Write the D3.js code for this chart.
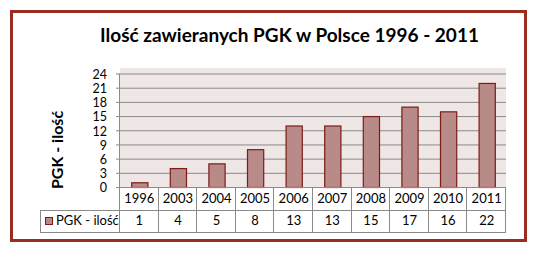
<!DOCTYPE html>
<html><head><meta charset="utf-8">
<script src="https://cdn.jsdelivr.net/npm/d3@7"></script>
<style>body{margin:0;background:#fff}svg{display:block}</style>
</head><body>
<script>
const categories = ["1996","2003","2004","2005","2006","2007","2008","2009","2010","2011"];
const values = [1,4,5,8,13,13,15,17,16,22];
const yTicks = [0,3,6,9,12,15,18,21,24];
const seriesName = "PGK - ilość";
const title = "Ilość zawieranych PGK w Polsce 1996 - 2011";

const W = 537, H = 253;
const svg = d3.select("body").append("svg").attr("width", W).attr("height", H);
const font = "Lato, 'Open Sans', sans-serif";

// outer frame
svg.append("rect").attr("x", 11.5).attr("y", 11.5).attr("width", 514).attr("height", 229)
  .attr("fill", "#fff").attr("stroke", "#9b2d20").attr("stroke-width", 3);

const L = 120, R = 506, T = 73.5, B = 187;
// plot bg
svg.append("rect").attr("x", L).attr("y", 68).attr("width", R - L).attr("height", B - 68).attr("fill", "#efe6e6");

const x = d3.scaleBand().domain(categories).range([L, R]).paddingInner(0.58).paddingOuter(0.29);
const xCol = d3.scaleBand().domain(categories).range([L, R]);
const y = d3.scaleLinear().domain([0, 24]).range([B, T]);

// gridlines
svg.append("g").selectAll("line").data(yTicks).join("line")
  .attr("x1", L).attr("x2", R).attr("y1", d => y(d) + 0.5).attr("y2", d => y(d) + 0.5)
  .attr("stroke", "#8a8a8a").attr("stroke-width", 1);

// y axis
const yAxis = d3.axisLeft(y).tickValues(yTicks).tickSize(0).tickPadding(0);
const ga = svg.append("g").attr("transform", `translate(${L - 13},0.5)`).call(yAxis);
ga.select(".domain").remove();
ga.selectAll("text").attr("font-family", font).attr("font-size", 12.5).attr("fill", "#000").attr("dy", "0.35em");
svg.append("line").attr("x1", L - 0.5).attr("x2", L - 0.5).attr("y1", T).attr("y2", B).attr("stroke", "#8a8a8a");
svg.append("g").selectAll("line").data(yTicks).join("line")
  .attr("x1", L - 4).attr("x2", L).attr("y1", d => y(d) + 0.5).attr("y2", d => y(d) + 0.5).attr("stroke", "#8a8a8a");

// bars
svg.append("g").selectAll("rect").data(values).join("rect")
  .attr("x", (d, i) => x(categories[i]) + 0.5)
  .attr("y", d => y(d) + 0.5)
  .attr("width", x.bandwidth())
  .attr("height", d => B - y(d))
  .attr("fill", "#b98b88").attr("stroke", "#7b1c16").attr("stroke-width", 1.2);

// table
const rowTop = B, rowMid = 210, rowBot = 232, legL = 40;
const tg = svg.append("g").attr("stroke", "#8a8a8a").attr("stroke-width", 1).attr("fill", "none");
tg.append("line").attr("x1", L).attr("x2", R).attr("y1", rowTop + 0.5).attr("y2", rowTop + 0.5);
tg.append("line").attr("x1", legL).attr("x2", R).attr("y1", rowMid + 0.5).attr("y2", rowMid + 0.5);
tg.append("line").attr("x1", legL).attr("x2", R).attr("y1", rowBot + 0.5).attr("y2", rowBot + 0.5);
tg.append("line").attr("x1", legL + 0.5).attr("x2", legL + 0.5).attr("y1", rowMid).attr("y2", rowBot + 1);
tg.selectAll("line.v").data(categories.concat(["end"])).join("line").attr("class", "v")
  .attr("x1", (d, i) => Math.round(L + i * xCol.bandwidth()) - 0.5)
  .attr("x2", (d, i) => Math.round(L + i * xCol.bandwidth()) - 0.5)
  .attr("y1", rowTop).attr("y2", rowBot + 1);

svg.append("g").selectAll("text").data(categories).join("text")
  .attr("x", d => xCol(d) + xCol.bandwidth() / 2).attr("y", (rowTop + rowMid) / 2 + 1)
  .attr("text-anchor", "middle").attr("dominant-baseline", "middle")
  .attr("font-family", font).attr("font-size", 13).text(d => d);
svg.append("g").selectAll("text").data(values).join("text")
  .attr("x", (d, i) => xCol(categories[i]) + xCol.bandwidth() / 2).attr("y", (rowMid + rowBot) / 2 + 1)
  .attr("text-anchor", "middle").attr("dominant-baseline", "middle")
  .attr("font-family", font).attr("font-size", 13).text(d => d);

// legend
svg.append("rect").attr("x", 45.5).attr("y", 217.5).attr("width", 7).attr("height", 7)
  .attr("fill", "#b98b88").attr("stroke", "#7b1c16");
svg.append("text").attr("x", 56).attr("y", (rowMid + rowBot) / 2 + 1).attr("dominant-baseline", "middle")
  .attr("font-family", font).attr("font-size", 13).text(seriesName);

// titles
svg.append("text").attr("x", 289.5).attr("y", 42).attr("text-anchor", "middle")
  .attr("font-family", font).attr("font-weight", "bold").attr("font-size", 19).text(title);
svg.append("text").attr("transform", `translate(63,150) rotate(-90)`).attr("text-anchor", "middle")
  .attr("font-family", font).attr("font-weight", "bold").attr("font-size", 16).text("PGK - ilość");
</script>
</body></html>
